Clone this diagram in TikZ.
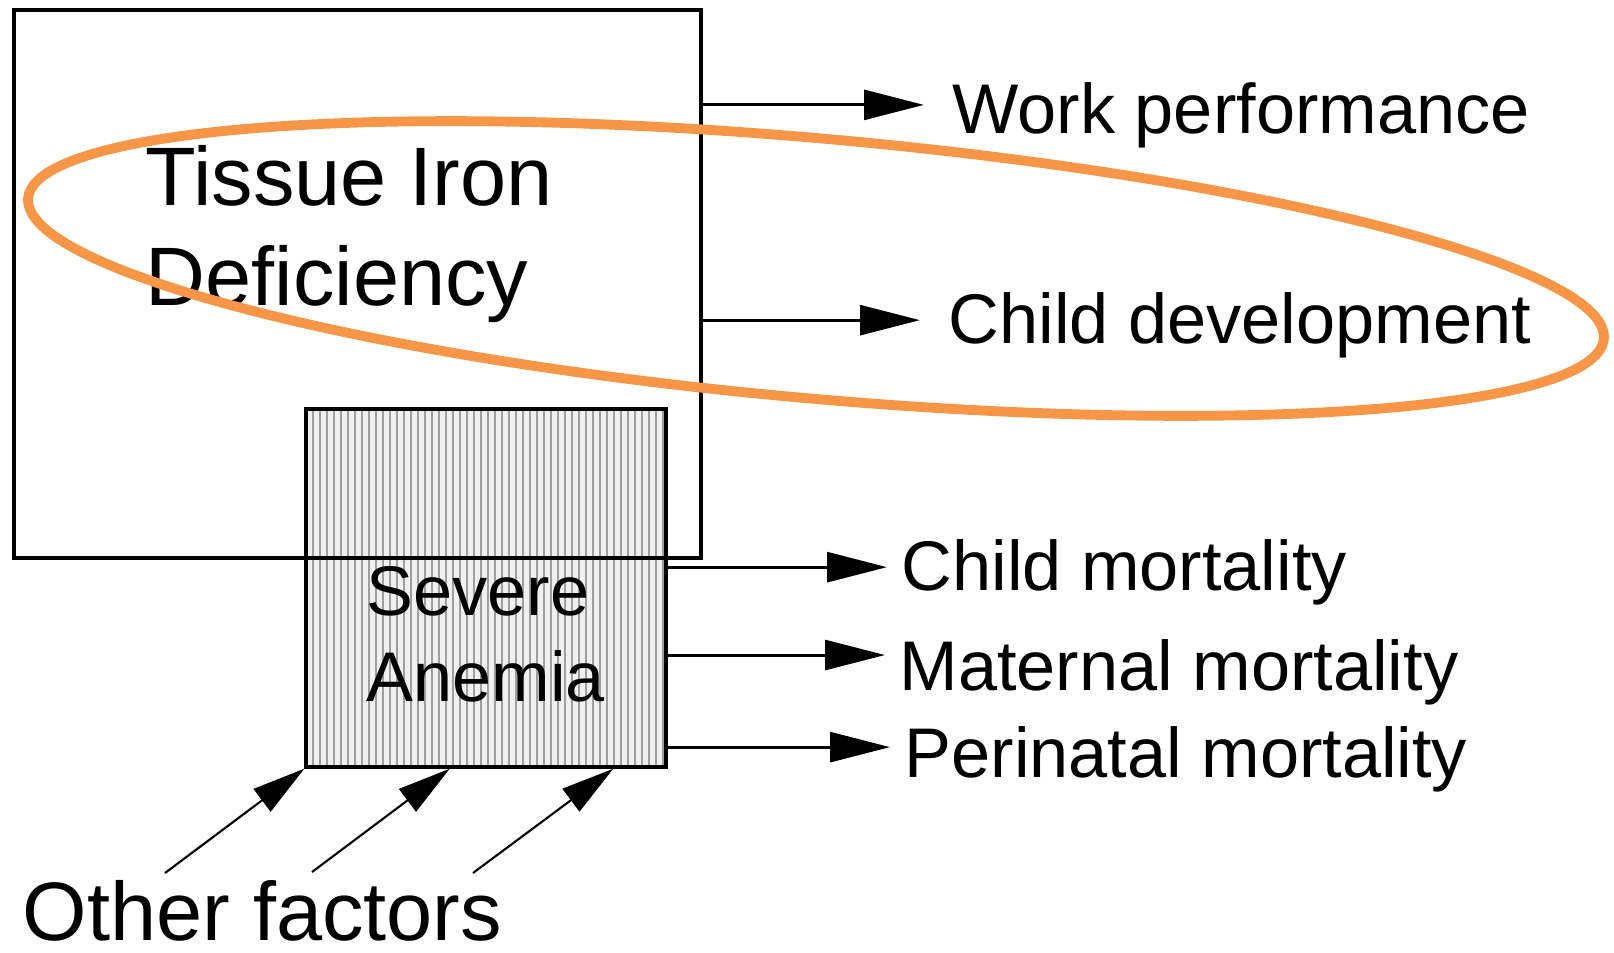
\documentclass[tikz,border=0pt]{standalone}
\usepackage{fontspec}
\setmainfont{Liberation Sans}
\usetikzlibrary{arrows.meta,calc,shapes.geometric}
\definecolor{ringorange}{HTML}{F79646}
\begin{document}
\begin{tikzpicture}[x=1mm,y=1mm,
    every node/.style={inner sep=0pt},
    outbox/.style={draw=black,line width=1pt,minimum width=68.7mm,minimum height=54.8mm},
    hatchbox/.style={draw=black,line width=1pt,fill=gray!12,minimum width=36mm,minimum height=35.8mm,
      path picture={\foreach \i in {1,...,51}
        \draw[gray!75,line width=0.55pt] ([xshift=\i*0.7mm]path picture bounding box.south west)
          -- ([xshift=\i*0.7mm]path picture bounding box.north west);}},
    bigtext/.style={font=\fontsize{23.6}{28.45}\selectfont,align=left},
    boxtext/.style={font=\fontsize{20}{24.4}\selectfont,align=left},
    lbl/.style={font=\fontsize{20}{24}\selectfont,anchor=base west,text height=14.4pt,text depth=0pt},
    arr/.style={line width=0.85pt,-{Triangle[length=17pt,width=8.5pt]}},
    thinarr/.style={line width=0.6pt,-{Triangle[length=15pt,width=8pt]}},
    ring/.style={ellipse,draw=ringorange,line width=2.8pt,minimum width=158.2mm,minimum height=26mm}]
  \useasboundingbox (0,0) rectangle (161.4,-95.3);
  \node[hatchbox] (sa) at (48.6,-58.8) {};
  \node[outbox] (tid) at (35.75,-28.4) {};
  \node[bigtext,anchor=west] (tidtxt) at (14.5,-23.45) {Tissue Iron\\Deficiency};
  \node[boxtext,anchor=west] (satxt) at (36.6,-63.45) {Severe\\Anemia};
  \node[lbl,text height=16pt] (wp) at (95.2,-13.3) {Work performance};
  \node[lbl,text height=13pt] (cd) at (94.8,-34.3) {Child development};
  \node[lbl,text height=13pt] (cm) at (90.1,-59.0) {Child mortality};
  \node[lbl,text height=19.9pt] (mm) at (89.9,-69.0) {Maternal mortality};
  \node[lbl,text height=17pt] (pm) at (90.4,-77.7) {Perinatal mortality};
  \node[bigtext,anchor=base west] (of) at (2.2,-94.0) {Other factors};
  \coordinate (of1) at (16.5,-87.3);
  \coordinate (of2) at (31.2,-87.2);
  \coordinate (of3) at (47.3,-87.3);
  \draw[arr,shorten >=8pt] (tid.east |- wp.west) -- (wp.west);
  \draw[arr,shorten >=8pt] (tid.east |- cd.west) -- (cd.west);
  \draw[arr,shorten >=4pt] (sa.east |- cm.west) -- (cm.west);
  \draw[arr,shorten >=4pt] (sa.east |- mm.west) -- (mm.west);
  \draw[arr,shorten >=4pt] (sa.east |- pm.west) -- (pm.west);
  \draw[thinarr] (of1) -- (sa.south west);
  \draw[thinarr] (of2) -- ($(sa.south west)!0.4!(sa.south east)$);
  \draw[thinarr] (of3) -- ($(sa.south west)!0.85!(sa.south east)$);
  \node[ring,rotate=-5.1] (hl) at (81.6,-26.85) {};
\end{tikzpicture}
\end{document}
